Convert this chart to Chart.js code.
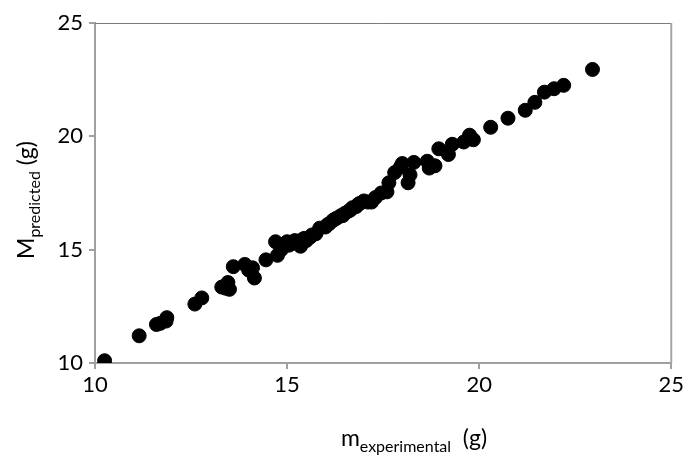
<!DOCTYPE html>
<html>
<head>
<meta charset="utf-8">
<script src="https://cdn.jsdelivr.net/npm/chart.js@4/dist/chart.umd.min.js"></script>
<style>
html,body{margin:0;padding:0;background:#fff;}
#wrap{width:687px;height:464px;position:relative;}
</style>
</head>
<body>
<div id="wrap"><canvas id="c" width="687" height="464"></canvas></div>
<script>
const mExperimental = [10.25,11.15,11.6,11.7,11.85,11.87,12.6,12.78,13.3,13.4,13.5,13.46,13.6,13.9,14.0,14.15,14.1,14.45,14.75,14.7,14.85,15.0,15.05,15.1,15.2,15.25,15.35,15.4,15.45,15.5,15.6,15.65,15.75,15.85,16.0,16.05,16.1,16.2,16.25,16.3,16.4,16.45,16.5,16.6,16.65,16.7,16.8,16.85,16.9,17.0,17.1,17.2,17.3,17.45,17.6,17.65,17.8,17.95,18.0,18.15,18.2,18.3,18.65,18.7,18.85,18.95,19.2,19.3,19.6,19.75,19.85,20.3,20.75,21.2,21.45,21.7,21.95,22.2,22.95];
const mPredicted   = [10.1,11.2,11.7,11.75,11.85,12.0,12.6,12.87,13.35,13.3,13.25,13.55,14.25,14.35,14.1,13.75,14.2,14.55,14.75,15.35,15.0,15.35,15.2,15.25,15.4,15.35,15.15,15.45,15.5,15.4,15.55,15.65,15.7,15.95,16.0,16.1,16.15,16.3,16.35,16.4,16.5,16.5,16.6,16.7,16.75,16.85,16.9,17.0,17.05,17.15,17.1,17.1,17.3,17.5,17.55,17.95,18.4,18.65,18.8,17.95,18.3,18.85,18.9,18.6,18.7,19.45,19.2,19.65,19.75,20.05,19.85,20.4,20.8,21.15,21.5,21.95,22.1,22.25,22.95];
const xTicks = [10,15,20,25];
const yTicks = [10,15,20,25];
const xTitle = ['m','experimental','  (g)'];
const yTitle = ['M','predicted',' (g)'];

const points = mExperimental.map((x,i)=>({x:x,y:mPredicted[i]}));
const FONT = 'Lato, "Open Sans", sans-serif';

const titlesPlugin = {
  id:'titles',
  afterDraw(chart){
    const ctx = chart.ctx, a = chart.chartArea;
    ctx.save();
    ctx.strokeStyle = '#7a7a7a'; ctx.lineWidth = 1;
    ctx.beginPath(); ctx.moveTo(a.left, a.top+0.5); ctx.lineTo(a.right, a.top+0.5); ctx.stroke();
    ctx.strokeStyle = '#a6a6a6'; ctx.lineWidth = 2;
    ctx.beginPath(); ctx.moveTo(a.right, a.top); ctx.lineTo(a.right, a.bottom); ctx.stroke();
    ctx.fillStyle = '#000';
    ctx.textBaseline = 'alphabetic';
    function drawParts(parts, cx, cy){
      const big = '23px '+FONT, small = '16px '+FONT;
      ctx.font = big; const w0 = ctx.measureText(parts[0]).width;
      ctx.font = small; const w1 = ctx.measureText(parts[1]).width;
      ctx.font = big; const w2 = ctx.measureText(parts[2]).width;
      let x = cx - (w0+w1+w2)/2;
      ctx.textAlign = 'left';
      ctx.font = big; ctx.fillText(parts[0], x, cy); x += w0;
      ctx.font = small; ctx.fillText(parts[1], x, cy+6); x += w1;
      ctx.font = big; ctx.fillText(parts[2], x, cy);
    }
    drawParts(xTitle, 414, 446);
    ctx.translate(34, 200);
    ctx.rotate(-Math.PI/2);
    drawParts(yTitle, 0, 0);
    ctx.restore();
  }
};

new Chart(document.getElementById('c'), {
  type:'scatter',
  data:{datasets:[{data:points, backgroundColor:'#000', borderColor:'#000', pointRadius:7, pointHoverRadius:7}]},
  options:{
    responsive:false, animation:false,
    layout:{padding:{left:0,top:23,right:15,bottom:0}},
    plugins:{legend:{display:false}, tooltip:{enabled:false}},
    scales:{
      x:{type:'linear', min:10, max:25,
        afterBuildTicks(s){ s.ticks = xTicks.map(v=>({value:v})); },
        afterFit(s){ s.height = 101; },
        grid:{drawOnChartArea:false, drawTicks:true, tickLength:6, color:'#a0a0a0', lineWidth:2},
        border:{color:'#a0a0a0', width:2},
        ticks:{color:'#000', font:{family:FONT,size:22}, padding:3, maxRotation:0}
      },
      y:{type:'linear', min:10, max:25,
        afterBuildTicks(s){ s.ticks = yTicks.map(v=>({value:v})); },
        afterFit(s){ s.width = 95; },
        grid:{drawOnChartArea:false, drawTicks:true, tickLength:6, color:'#a0a0a0', lineWidth:2},
        border:{color:'#a0a0a0', width:2},
        ticks:{color:'#000', font:{family:FONT,size:22}, padding:6}
      }
    }
  },
  plugins:[titlesPlugin]
});
</script>
</body>
</html>
